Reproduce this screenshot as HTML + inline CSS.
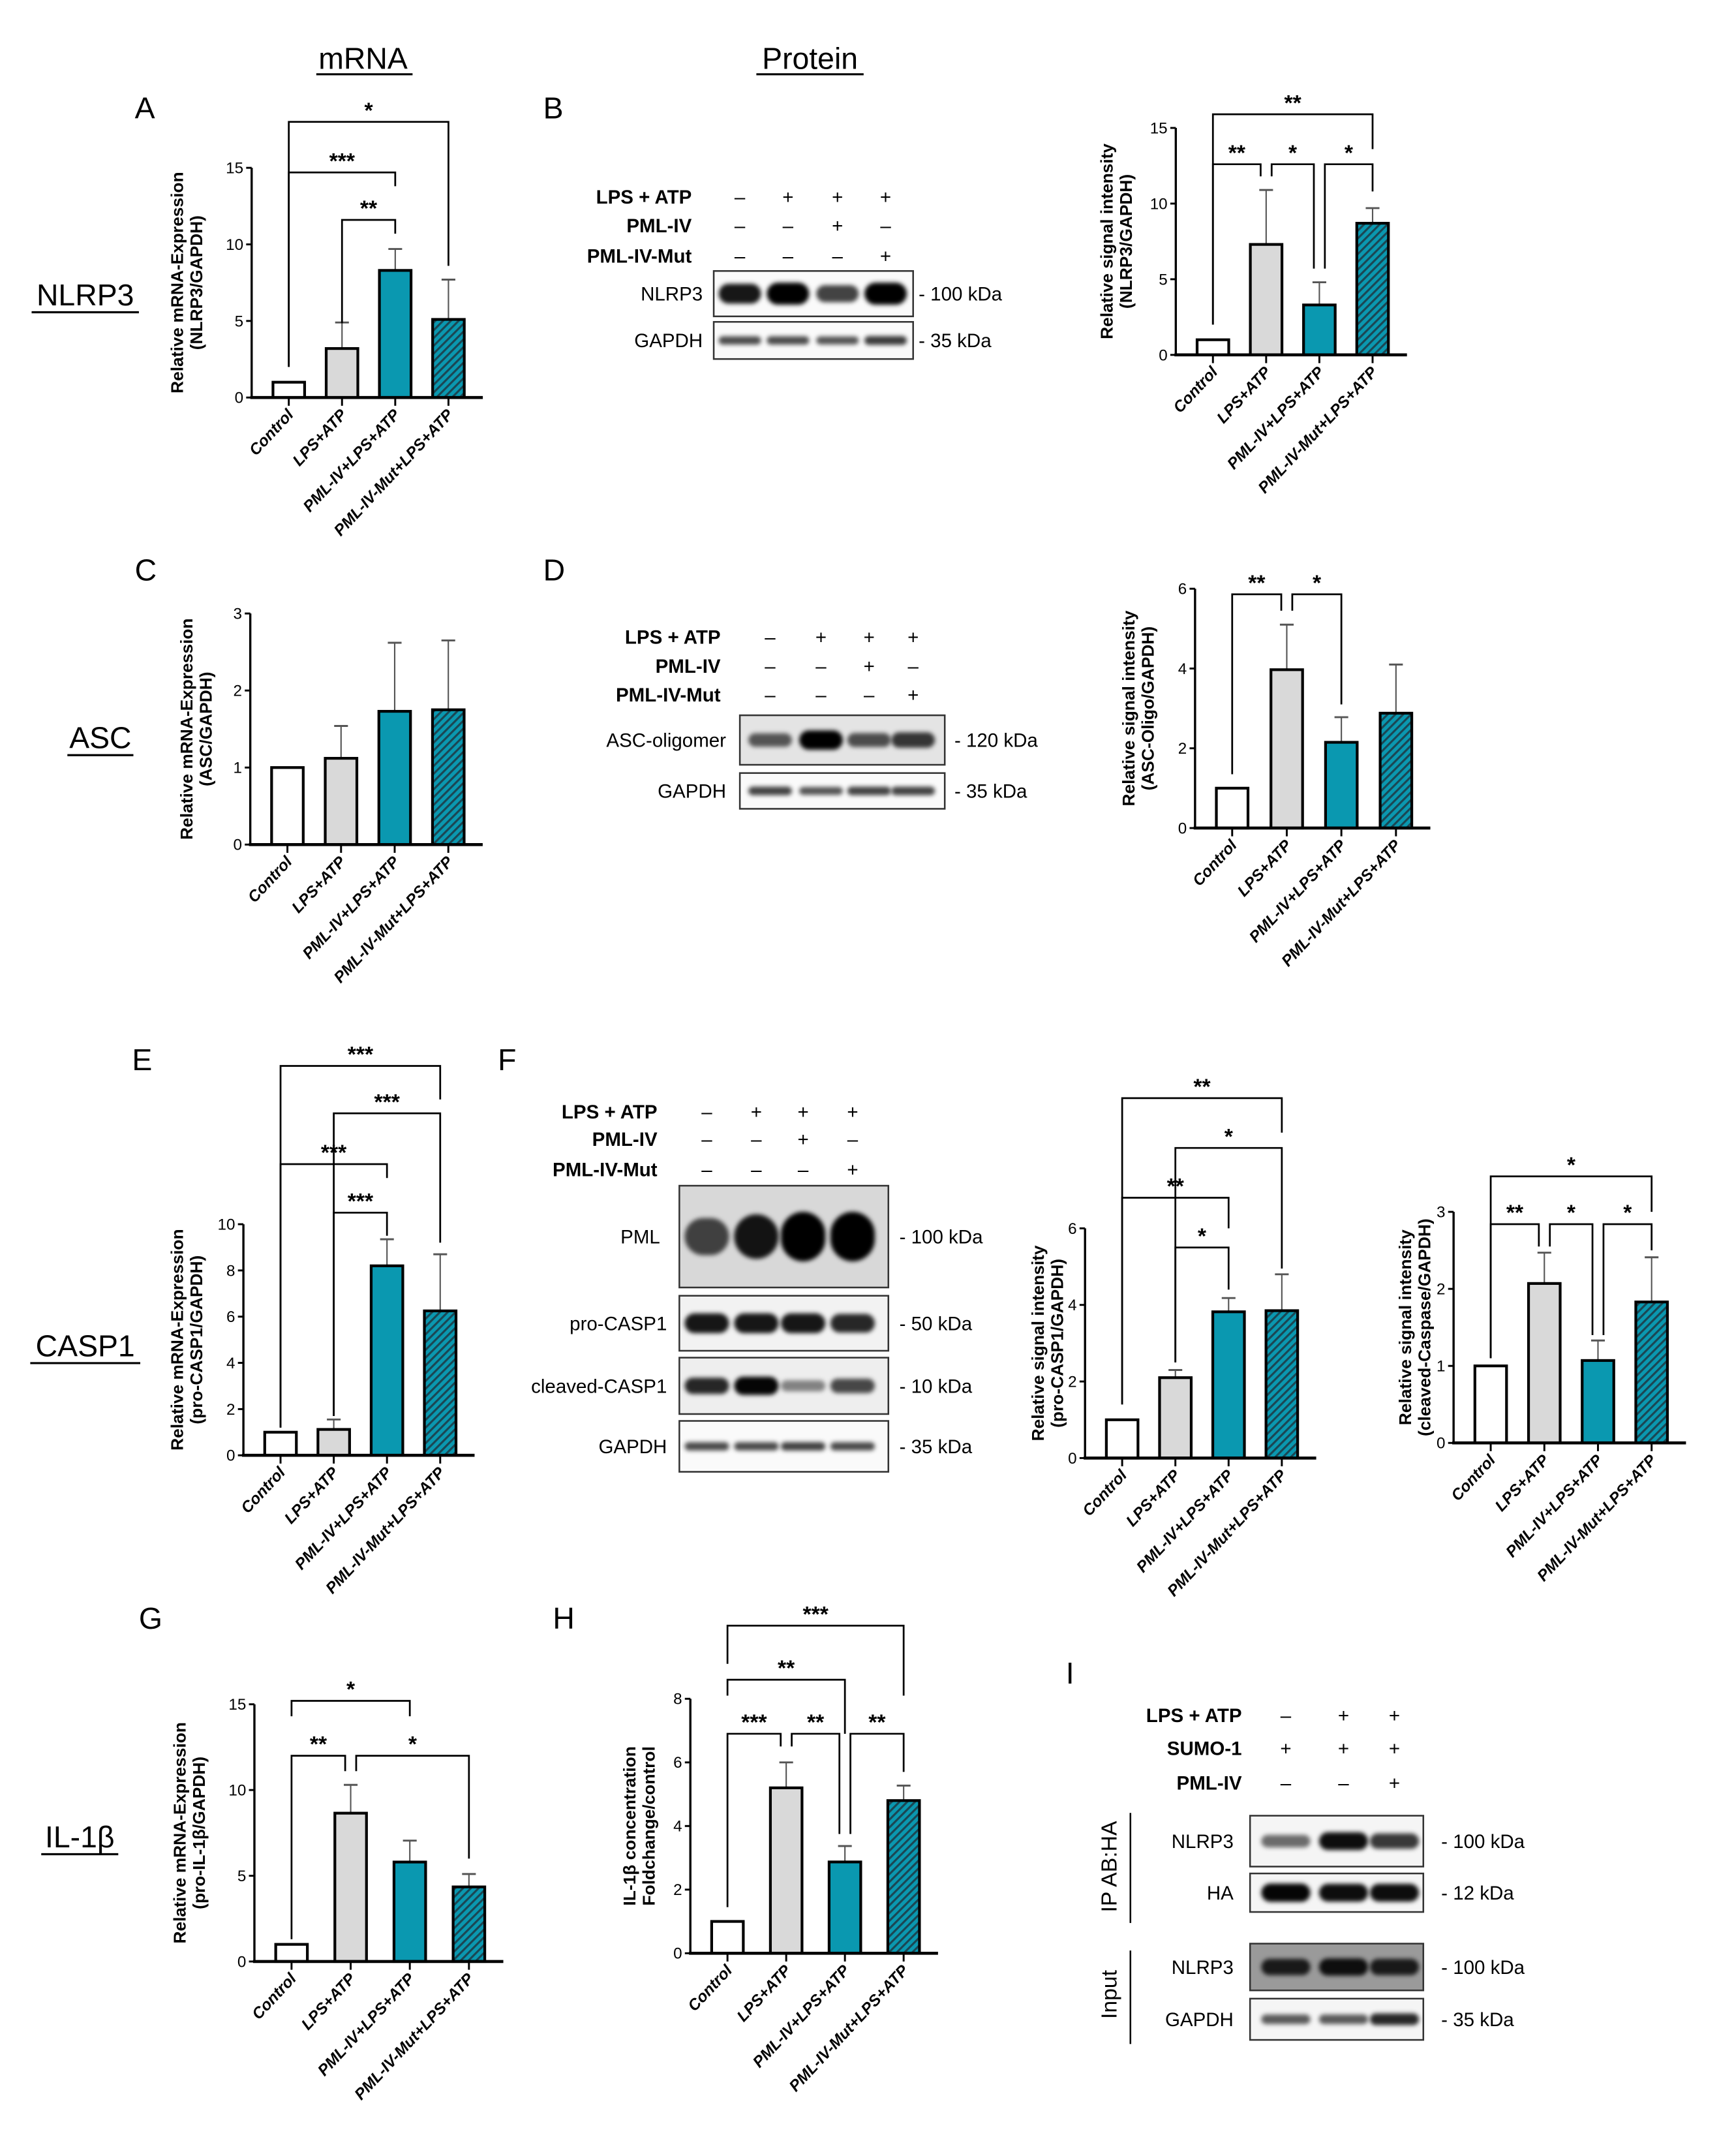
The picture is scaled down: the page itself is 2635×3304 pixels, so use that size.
<!DOCTYPE html>
<html><head><meta charset="utf-8"><style>
html,body{margin:0;padding:0;background:#fff;}
svg{display:block;font-family:"Liberation Sans",Arial,sans-serif;}
</style></head><body>
<svg id="fig" xmlns="http://www.w3.org/2000/svg" width="2635" height="3304" viewBox="0 0 1250 1567.4" preserveAspectRatio="none">
<defs>
<pattern id="hatch" width="4" height="4" patternUnits="userSpaceOnUse" patternTransform="rotate(45)">
<rect width="4" height="4" fill="#0a98b0"/><rect width="1.5" height="4" fill="#1b4653"/></pattern>
<filter id="blur1" x="-30%" y="-100%" width="160%" height="300%"><feGaussianBlur stdDeviation="1.6"/></filter>
</defs>
<g id="static" font-size="20">
<text x="264" y="50" text-anchor="middle" font-size="22">mRNA</text>
<line x1="230" y1="54" x2="300" y2="54" stroke="#000" stroke-width="1.5"/>
<text x="589" y="50" text-anchor="middle" font-size="22">Protein</text>
<line x1="550" y1="54" x2="628" y2="54" stroke="#000" stroke-width="1.5"/>
<text x="98" y="86" font-size="22">A</text>
<text x="395" y="86" font-size="22">B</text>
<text x="98" y="422" font-size="22">C</text>
<text x="395" y="422" font-size="22">D</text>
<text x="96" y="778" font-size="22">E</text>
<text x="362" y="778" font-size="22">F</text>
<text x="101" y="1184" font-size="22">G</text>
<text x="402" y="1184" font-size="22">H</text>
<text x="775" y="1224" font-size="22">I</text>
<text x="62" y="222" text-anchor="middle" font-size="22">NLRP3</text>
<line x1="23" y1="227" x2="101" y2="227" stroke="#000" stroke-width="1.5"/>
<text x="73" y="544" text-anchor="middle" font-size="22">ASC</text>
<line x1="49" y1="549" x2="97" y2="549" stroke="#000" stroke-width="1.5"/>
<text x="62" y="986" text-anchor="middle" font-size="22">CASP1</text>
<line x1="22" y1="991" x2="102" y2="991" stroke="#000" stroke-width="1.5"/>
<text x="58" y="1343" text-anchor="middle" font-size="22">IL-1β</text>
<line x1="30" y1="1348" x2="86" y2="1348" stroke="#000" stroke-width="1.5"/>
</g>
<g id="charts"></g>
<g id="blots"></g>
</svg>
<script>
const NS='http://www.w3.org/2000/svg';
const categories=['Control','LPS+ATP','PML-IV+LPS+ATP','PML-IV-Mut+LPS+ATP'];
// Panel A
const aValues=[1,3.2,8.3,5.1];
const aErrors=[0,4.9,9.7,7.7];
const aTicks=[0,5,10,15];
const aBrackets=[[0,3,18.0,2.0,8.6,'*'],[0,2,14.7,2.0,13.8,'***'],[1,2,11.6,4.85,10.7,'**']];
// Panel B
const bValues=[1,7.3,3.3,8.7];
const bErrors=[0,10.9,4.8,9.7];
const bTicks=[0,5,10,15];
const bBrackets=[[0,3,15.9,2.0,13.6,'**'],[0,1,12.6,2.0,11.8,'**'],[1,2,12.6,11.8,5.7,'*'],[2,3,12.6,5.7,10.8,'*']];
// Panel C
const cValues=[1,1.12,1.73,1.75];
const cErrors=[0,1.54,2.62,2.65];
const cTicks=[0,1,2,3];
const cBrackets=[];
// Panel D
const dValues=[1,3.97,2.15,2.88];
const dErrors=[0,5.1,2.78,4.1];
const dTicks=[0,2,4,6];
const dBrackets=[[0,1,5.86,1.35,5.45,'**'],[1,2,5.86,5.45,3.1,'*']];
// Panel E
const eValues=[1,1.12,8.2,6.25];
const eErrors=[0,1.55,9.35,8.7];
const eTicks=[0,2,4,6,8,10];
const eBrackets=[[0,3,16.85,1.2,15.4,'***'],[1,3,14.8,1.7,9.2,'***'],[0,2,12.6,1.2,12.0,'***'],[1,2,10.5,1.7,9.5,'***']];
// Panel F (pro-CASP1)
const f1Values=[1,2.1,3.82,3.85];
const f1Errors=[0,2.3,4.18,4.8];
const f1Ticks=[0,2,4,6];
const f1Brackets=[[0,3,9.4,1.4,8.5,'**'],[1,3,8.1,2.5,4.95,'*'],[0,2,6.8,1.4,6.0,'**'],[1,2,5.5,2.5,4.4,'*']];
// Panel F (cleaved caspase)
const f2Values=[1,2.07,1.07,1.83];
const f2Errors=[0,2.47,1.33,2.41];
const f2Ticks=[0,1,2,3];
const f2Brackets=[[0,3,3.46,1.1,3.0,'*'],[0,1,2.84,1.1,2.55,'**'],[1,2,2.84,2.55,1.4,'*'],[2,3,2.84,1.4,2.5,'*']];
// Panel G
const gValues=[1,8.65,5.8,4.35];
const gErrors=[0,10.3,7.05,5.1];
const gTicks=[0,5,10,15];
const gBrackets=[[0,2,15.2,14.3,14.3,'*'],[0,1,12.0,1.3,11.1,'**'],[1,3,12.0,11.1,6.0,'*']];
// Panel H
const hValues=[1,5.2,2.87,4.8];
const hErrors=[0,6.0,3.37,5.27];
const hTicks=[0,2,4,6,8];
const hBrackets=[[0,3,10.3,9.1,8.1,'***'],[0,2,8.6,8.1,6.9,'**'],[0,1,6.9,1.45,6.5,'***'],[1,2,6.9,6.5,3.75,'**'],[2,3,6.9,3.75,5.7,'**']];

const fills=['#ffffff','#d9d9d9','#0a98b0','url(#hatch)'];
const chartsG=document.getElementById('charts');
function el(tag,attrs,parent){const e=document.createElementNS(NS,tag);for(const k in attrs)e.setAttribute(k,attrs[k]);(parent||chartsG).appendChild(e);return e;}

function chart(id,o){
  const g=el('g',{});
  
  
  const max=o.ticks[o.ticks.length-1];
  const ppu=(o.y0-o.yTop)/max;
  const Y=v=>o.y0-v*ppu;
  const X=i=>o.x0+27+i*o.step;
  const ya=el('line',{x1:o.x0,y1:o.y0,x2:o.x0,y2:o.yTop,stroke:'#000','stroke-width':1.6},g);
  
  
  o.ticks.forEach(t=>{
    el('line',{x1:o.x0-4,y1:Y(t),x2:o.x0,y2:Y(t),stroke:'#000','stroke-width':1.4},g);
    const tl=el('text',{x:o.x0-6,y:Y(t)+4,'text-anchor':'end','font-size':11.5},g);
    tl.textContent=t;
    
    
  });
  o.values.forEach((v,i)=>{
    const cx=X(i);
    if(o.errors[i]>0){
      el('line',{x1:cx,y1:Y(v),x2:cx,y2:Y(o.errors[i]),stroke:'#555','stroke-width':1},g);
      el('line',{x1:cx-5,y1:Y(o.errors[i]),x2:cx+5,y2:Y(o.errors[i]),stroke:'#555','stroke-width':1.4},g);
    }
    const r=el('rect',{x:cx-11.5,y:Y(v),width:23,height:v*ppu,fill:fills[i],stroke:'#000','stroke-width':2},g);
    
    
    el('line',{x1:cx,y1:o.y0,x2:cx,y2:o.y0+6,stroke:'#000','stroke-width':1.4},g);
    const cl=el('text',{x:0,y:0,'text-anchor':'end','font-size':11.5,'font-style':'italic','font-weight':'bold',transform:`translate(${cx+4},${o.y0+13}) rotate(-47)`},g);
    cl.textContent=categories[i];
    
    
  });
  const xa=el('line',{x1:o.x0-1,y1:o.y0,x2:X(3)+25,y2:o.y0,stroke:'#000','stroke-width':2.2},g);
  
  
  const cy=(o.y0+o.yTop)/2;
  const tt=el('text',{'text-anchor':'middle','font-size':12.5,'font-weight':'bold',transform:`translate(${o.x0-o.tOff},${cy}) rotate(-90)`},g);
  
  
  o.title.forEach((line,k)=>{const ts=el('tspan',{x:0,dy:k?14:0},tt);ts.textContent=line;});
  o.brackets.forEach(b=>{
    const [i,j,yv,l1,l2,lab]=b;
    const shares=(idx,self)=>o.brackets.some(c=>c!==self&&Math.abs(c[2]-self[2])<0.01&&(c[0]===idx||c[1]===idx));
    let xa1=X(i),xa2=X(j);
    if(shares(i,b))xa1+=4;
    if(shares(j,b))xa2-=4;
    const y=Y(yv);
    const p=el('path',{d:`M${xa1},${Y(l1)}V${y}H${xa2}V${Y(l2)}`,fill:'none',stroke:'#000','stroke-width':1.3},g);
    
    
    const st=el('text',{x:(xa1+xa2)/2,y:y-3,'text-anchor':'middle','font-size':16,'font-weight':'bold'},g);
    st.textContent=lab;
    
    
  });
}
chart('panel-a',{x0:183,y0:289,yTop:122,step:38.7,values:aValues,errors:aErrors,ticks:aTicks,brackets:aBrackets,tOff:50,title:['Relative mRNA-Expression','(NLRP3/GAPDH)']});
chart('panel-b',{x0:855,y0:258,yTop:93,step:38.7,values:bValues,errors:bErrors,ticks:bTicks,brackets:bBrackets,tOff:46,title:['Relative signal intensity','(NLRP3/GAPDH)']});
chart('panel-c',{x0:182,y0:614,yTop:446,step:39,values:cValues,errors:cErrors,ticks:cTicks,brackets:cBrackets,tOff:42,title:['Relative mRNA-Expression','(ASC/GAPDH)']});
chart('panel-d',{x0:869,y0:602,yTop:428,step:39.7,values:dValues,errors:dErrors,ticks:dTicks,brackets:dBrackets,tOff:44,title:['Relative signal intensity','(ASC-Oligo/GAPDH)']});
chart('panel-e',{x0:177,y0:1058,yTop:890,step:38.7,values:eValues,errors:eErrors,ticks:eTicks,brackets:eBrackets,tOff:44,title:['Relative mRNA-Expression','(pro-CASP1/GAPDH)']});
chart('panel-f-pro',{x0:789,y0:1060,yTop:893,step:38.7,values:f1Values,errors:f1Errors,ticks:f1Ticks,brackets:f1Brackets,tOff:30,title:['Relative signal intensity','(pro-CASP1/GAPDH)']});
chart('panel-f-cleaved',{x0:1057,y0:1049,yTop:881,step:39,values:f2Values,errors:f2Errors,ticks:f2Ticks,brackets:f2Brackets,tOff:31,title:['Relative signal intensity','(cleaved-Caspase/GAPDH)']});
chart('panel-g',{x0:185,y0:1426,yTop:1239,step:43,values:gValues,errors:gErrors,ticks:gTicks,brackets:gBrackets,tOff:50,title:['Relative mRNA-Expression','(pro-IL-1β/GAPDH)']});
chart('panel-h',{x0:502,y0:1420,yTop:1235,step:42.7,values:hValues,errors:hErrors,ticks:hTicks,brackets:hBrackets,tOff:40,title:['IL-1β concentration','Foldchange/control']});

const blotsG=document.getElementById('blots');
function bel(tag,attrs,parent){const e=document.createElementNS(NS,tag);for(const k in attrs)e.setAttribute(k,attrs[k]);(parent||blotsG).appendChild(e);return e;}
function txt(x,y,s,name,opts,parent){const t=bel('text',Object.assign({x:x,y:y},opts||{}),parent);t.textContent=s;return t;}
function conditions(rows,cols,labelX,ys,name){
  const g=bel('g',{});
  
  
  rows.forEach((r,k)=>{
    txt(labelX,ys[k]+5,r[0],'condition-label',{'text-anchor':'end','font-size':14,'font-weight':'bold'},g);
    r[1].split('').forEach((s,c)=>txt(cols[c],ys[k]+5,s==='+'?'+':'–','condition-sign',{'text-anchor':'middle','font-size':14},g));
  });
}
function blot(name,x1,x2,y1,y2,bg,lanes,inten,thick,label,labelX,kda,kdaX){
  const g=bel('g',{});
  
  
  bel('rect',{x:x1,y:y1,width:x2-x1,height:y2-y1,fill:bg,stroke:'#333','stroke-width':1.2},g);
  const cy=(y1+y2)/2;
  const lw=(x2-x1)/lanes.length*0.85;
  lanes.forEach((cx,i)=>{
    const a=inten[i];
    const h=2*thick*(0.5+0.5*a);
    const b=bel('rect',{x:cx-lw/2,y:cy-h/2,width:lw,height:h,rx:Math.min(lw/2,h/2),fill:'#000','fill-opacity':Math.min(1,0.35+0.7*a),filter:'url(#blur1)'},g);
    
    
  });
  txt(labelX,cy+5,label,'band-label',{'text-anchor':'end','font-size':14},g);
  txt(kdaX,cy+5,kda,'kda-label',{'font-size':14},g);
}
const bCols=[538,573,609,644];
conditions([['LPS + ATP','-+++'],['PML-IV','--+-'],['PML-IV-Mut','---+']],bCols,503,[143,164,186],'panel-b-conditions');
const bNlrp3=[0.8,1,0.55,1];
const bGapdh=[0.5,0.5,0.45,0.6];
blot('panel-b-nlrp3-blot',519,664,197,230,'#fafafa',bCols,bNlrp3,8,'NLRP3',511,'- 100 kDa',668);
blot('panel-b-gapdh-blot',519,664,234,261,'#fafafa',bCols,bGapdh,4,'GAPDH',511,'-  35 kDa',668);
const dCols=[560,597,632,664];
conditions([['LPS + ATP','-+++'],['PML-IV','--+-'],['PML-IV-Mut','---+']],dCols,524,[463,484,505],'panel-d-conditions');
const dAsc=[0.4,1,0.45,0.6];
const dGapdh=[0.55,0.45,0.55,0.55];
blot('panel-d-asc-blot',538,687,520,556,'#e4e4e4',dCols,dAsc,7,'ASC-oligomer',528,'- 120 kDa',694);
blot('panel-d-gapdh-blot',538,687,562,588,'#fafafa',dCols,dGapdh,4,'GAPDH',528,'-  35 kDa',694);
const fCols=[514,550,584,620];
conditions([['LPS + ATP','-+++'],['PML-IV','--+-'],['PML-IV-Mut','---+']],fCols,478,[808,828,850],'panel-f-conditions');
const fPml=[0.5,0.8,1,1];
const fPro=[0.8,0.8,0.8,0.7];
const fCleaved=[0.7,0.9,0.15,0.5];
const fGapdh=[0.5,0.5,0.55,0.5];
blot('panel-f-pml-blot',494,646,862,936,'#d8d8d8',fCols,fPml,18,'PML',480,'- 100 kDa',654);
blot('panel-f-procasp1-blot',494,646,942,982,'#f2f2f2',fCols,fPro,8,'pro-CASP1',485,'- 50 kDa',654);
blot('panel-f-cleavedcasp1-blot',494,646,987,1028,'#eeeeee',fCols,fCleaved,7,'cleaved-CASP1',485,'- 10 kDa',654);
blot('panel-f-gapdh-blot',494,646,1033,1070,'#fafafa',fCols,fGapdh,4,'GAPDH',485,'- 35 kDa',654);
const iCols=[935,977,1014];
conditions([['LPS + ATP','-++'],['SUMO-1','+++'],['PML-IV','--+']],iCols,903,[1247,1271,1296],'panel-i-conditions');
const iNlrp3=[0.3,0.85,0.6];
const iHa=[0.9,0.85,0.85];
const iInput=[0.7,0.8,0.7];
const iGapdh=[0.4,0.4,0.7];
blot('panel-i-ip-nlrp3-blot',909,1035,1320,1357,'#f5f5f5',iCols,iNlrp3,7,'NLRP3',897,'- 100 kDa',1048);
blot('panel-i-ha-blot',909,1035,1362,1390,'#f5f5f5',iCols,iHa,7,'HA',897,'- 12 kDa',1048);
blot('panel-i-input-nlrp3-blot',909,1035,1413,1447,'#9a9a9a',iCols,iInput,7,'NLRP3',897,'- 100 kDa',1048);
blot('panel-i-gapdh-blot',909,1035,1453,1483,'#f5f5f5',iCols,iGapdh,5,'GAPDH',897,'- 35 kDa',1048);
txt(0,0,'IP AB:HA','ip-label',{'text-anchor':'middle','font-size':16,transform:'translate(812,1357) rotate(-90)'});
txt(0,0,'Input','input-label',{'text-anchor':'middle','font-size':16,transform:'translate(812,1450) rotate(-90)'});
bel('line',{x1:822,y1:1318,x2:822,y2:1398,stroke:'#000','stroke-width':1.2});
bel('line',{x1:822,y1:1418,x2:822,y2:1486,stroke:'#000','stroke-width':1.2});
</script>
</body></html>
